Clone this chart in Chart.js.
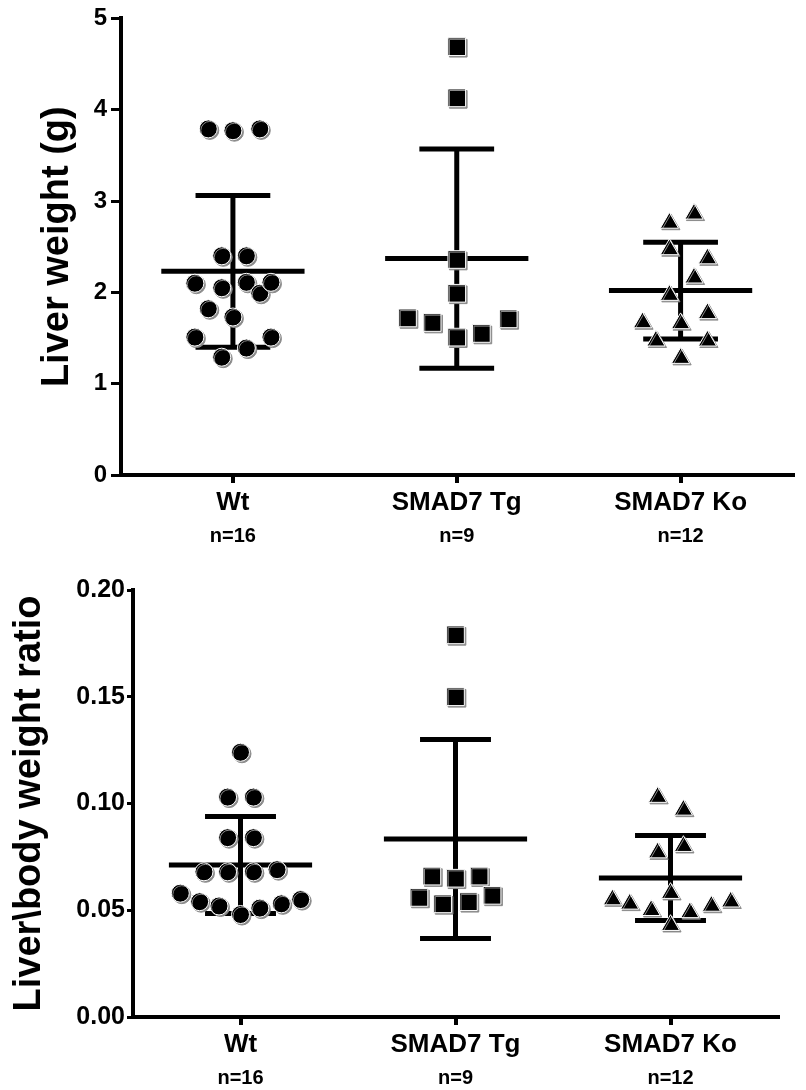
<!DOCTYPE html>
<html>
<head>
<meta charset="utf-8">
<script src="https://cdn.jsdelivr.net/npm/chart.js@4.4.1/dist/chart.umd.min.js"></script>
<style>
	body { margin: 0; background: #fff; }
	.panel { position: absolute; left: 0; width: 806px; height: 545px; }
</style>
</head>
<body>
<div class="panel" style="top:0"><canvas id="weight-canvas" width="806" height="545"></canvas></div>
<div class="panel" style="top:545px"><canvas id="ratio-canvas" width="806" height="545"></canvas></div>
<script>
const groupNames = ["Wt", "SMAD7 Tg", "SMAD7 Ko"];
const groupCounts = ["n=16", "n=9", "n=12"];
const pointShapes = ["circle", "rect", "triangle"];
const pointSizes = [9, 12.5, 10.5];

// liver weight (g)
const weightWt = [3.79, 3.77, 3.79, 2.40, 2.40, 2.10, 2.05, 2.11, 1.99, 2.11, 1.82, 1.73, 1.51, 1.51, 1.39, 1.29];
const weightWtJitter = [-0.11, 0, 0.12, -0.05, 0.06, -0.17, -0.05, 0.06, 0.12, 0.17, -0.11, 0, -0.17, 0.17, 0.06, -0.05];
const weightTg = [4.69, 4.13, 2.36, 1.99, 1.72, 1.67, 1.51, 1.55, 1.71];
const weightTgJitter = [0, 0, 0, 0, -0.22, -0.11, 0, 0.11, 0.23];
const weightKo = [2.86, 2.76, 2.47, 2.37, 2.16, 1.97, 1.77, 1.67, 1.66, 1.47, 1.47, 1.28];
const weightKoJitter = [0.06, -0.05, -0.05, 0.12, 0.06, -0.05, 0.12, -0.17, 0, -0.11, 0.12, 0];
const weightMeans = [2.23, 2.37, 2.02];
const weightSDs = [0.83, 1.20, 0.53];
const weightTicks = [0, 1, 2, 3, 4, 5];

// liver / body weight ratio
const ratioWt = [0.124, 0.103, 0.103, 0.084, 0.084, 0.068, 0.068, 0.068, 0.069, 0.058, 0.054, 0.052, 0.048, 0.051, 0.053, 0.055];
const ratioWtJitter = [0, -0.06, 0.06, -0.06, 0.06, -0.17, -0.06, 0.06, 0.17, -0.28, -0.19, -0.10, 0, 0.09, 0.19, 0.28];
const ratioTg = [0.179, 0.150, 0.066, 0.065, 0.066, 0.056, 0.053, 0.054, 0.057];
const ratioTgJitter = [0, 0, -0.11, 0, 0.11, -0.17, -0.06, 0.06, 0.17];
const ratioKo = [0.103, 0.097, 0.077, 0.080, 0.058, 0.055, 0.053, 0.050, 0.043, 0.049, 0.052, 0.054];
const ratioKoJitter = [-0.06, 0.06, -0.06, 0.06, 0, -0.27, -0.19, -0.09, 0, 0.09, 0.19, 0.28];
const ratioMeans = [0.0712, 0.0834, 0.0651];
const ratioSDs = [0.0227, 0.0466, 0.0199];
const ratioTicks = [0, 0.05, 0.10, 0.15, 0.20];

const FONT = "'Liberation Sans', Arial, sans-serif";

// mean line + SD whiskers, drawn under the points
const meanSdPlugin =
{
	id: "meanSd",
	beforeDatasetsDraw(chart, args, opts)
	{
		const ctx = chart.ctx;
		const x = chart.scales.x;
		const y = chart.scales.y;
		ctx.save();
		ctx.strokeStyle = "#000";
		ctx.lineWidth = opts.width;
		ctx.lineCap = "butt";
		for(let i = 0; i < opts.means.length; i++)
		{
			const m = opts.means[i], s = opts.sds[i];
			const seg = (x0, y0, x1, y1) =>
			{
				ctx.beginPath();
				ctx.moveTo(x.getPixelForValue(x0), y.getPixelForValue(y0));
				ctx.lineTo(x.getPixelForValue(x1), y.getPixelForValue(y1));
				ctx.stroke();
			};
			seg(i - opts.half, m, i + opts.half, m);
			seg(i, m - s, i, m + s);
			seg(i - opts.cap, m + s, i + opts.cap, m + s);
			seg(i - opts.cap, m - s, i + opts.cap, m - s);
		}
		ctx.restore();
		// grey offset edge of the markers
		ctx.save();
		ctx.shadowColor = "#8a8a8a";
		ctx.shadowOffsetX = 1.5;
		ctx.shadowOffsetY = 1.5;
		ctx.shadowBlur = 0;
	},
	afterDatasetsDraw(chart)
	{
		chart.ctx.restore();
	}
};

function buildDatasets(values, jitters)
{
	return values.map((vals, g) =>
	({
		data: vals.map((v, k) => ({ x: g + jitters[g][k], y: v })),
		pointStyle: pointShapes[g],
		pointRadius: pointSizes[g],
		pointHoverRadius: pointSizes[g],
		backgroundColor: "#000",
		borderColor: "#fff",
		borderWidth: 1
	}));
}

function buildChart(canvasId, cfg)
{
	return new Chart(document.getElementById(canvasId).getContext("2d"),
	{
		type: "scatter",
		data: { datasets: buildDatasets(cfg.values, cfg.jitters) },
		plugins: [meanSdPlugin],
		options:
		{
			responsive: false,
			animation: false,
			layout: { padding: cfg.padding },
			plugins:
			{
				legend: { display: false },
				tooltip: { enabled: false },
				meanSd: { means: cfg.means, sds: cfg.sds, half: cfg.half, cap: cfg.cap, width: 5 }
			},
			scales:
			{
				x:
				{
					type: "linear",
					min: -0.5,
					max: 2.5,
					afterBuildTicks: (s) => { s.ticks = [0, 1, 2].map(v => ({ value: v })); },
					afterFit: (s) => { s.height = 43; },
					border: { display: true, width: 4, color: "#000" },
					grid: { drawOnChartArea: false, drawTicks: true, tickLength: 8, lineWidth: 4, color: "#000" },
					ticks:
					{
						padding: 4,
						color: "#000",
						maxRotation: 0,
						font: { family: FONT, size: 26, weight: "bold" },
						callback: (v) => groupNames[v]
					}
				},
				x2:
				{
					type: "linear",
					position: "bottom",
					min: -0.5,
					max: 2.5,
					afterBuildTicks: (s) => { s.ticks = [0, 1, 2].map(v => ({ value: v })); },
					afterFit: (s) => { s.height = cfg.countHeight; },
					border: { display: false },
					grid: { display: false, drawTicks: false },
					ticks:
					{
						padding: 6,
						color: "#000",
						maxRotation: 0,
						font: { family: FONT, size: 20, weight: "bold" },
						callback: (v) => groupCounts[v]
					}
				},
				y:
				{
					min: cfg.ticks[0],
					max: cfg.ticks[cfg.ticks.length - 1],
					afterBuildTicks: (s) => { s.ticks = cfg.ticks.map(v => ({ value: v })); },
					afterFit: (s) => { s.width = cfg.yWidth; },
					border: { display: true, width: 4, color: "#000" },
					grid: { drawOnChartArea: false, drawTicks: true, tickLength: cfg.tickLength, lineWidth: 3, color: "#000" },
					ticks:
					{
						padding: cfg.tickPad,
						color: "#000",
						font: { family: FONT, size: cfg.tickFont, weight: "bold" },
						callback: cfg.tickFormat
					},
					title:
					{
						display: true,
						text: cfg.title,
						color: "#000",
						padding: 0,
						font: { family: FONT, size: 38, weight: "bold" }
					}
				}
			}
		}
	});
}

buildChart("weight-canvas",
{
	values: [weightWt, weightTg, weightKo],
	jitters: [weightWtJitter, weightTgJitter, weightKoJitter],
	means: weightMeans,
	sds: weightSDs,
	ticks: weightTicks,
	tickFormat: (v) => "" + v,
	tickFont: 24,
	tickLength: 10,
	tickPad: 4,
	title: "Liver weight (g)",
	yWidth: 86,
	countHeight: 27,
	half: 0.32,
	cap: 0.167,
	padding: { left: 35, top: 17, right: 1, bottom: 0 }
});

buildChart("ratio-canvas",
{
	values: [ratioWt, ratioTg, ratioKo],
	jitters: [ratioWtJitter, ratioTgJitter, ratioKoJitter],
	means: ratioMeans,
	sds: ratioSDs,
	ticks: ratioTicks,
	tickFormat: (v) => v.toFixed(2),
	tickFont: 25,
	tickLength: 6,
	tickPad: 2,
	title: "Liver\\body weight ratio",
	yWidth: 126,
	countHeight: 30,
	half: 0.333,
	cap: 0.165,
	padding: { left: 7, top: 45, right: 28, bottom: 0 }
});
</script>
</body>
</html>
